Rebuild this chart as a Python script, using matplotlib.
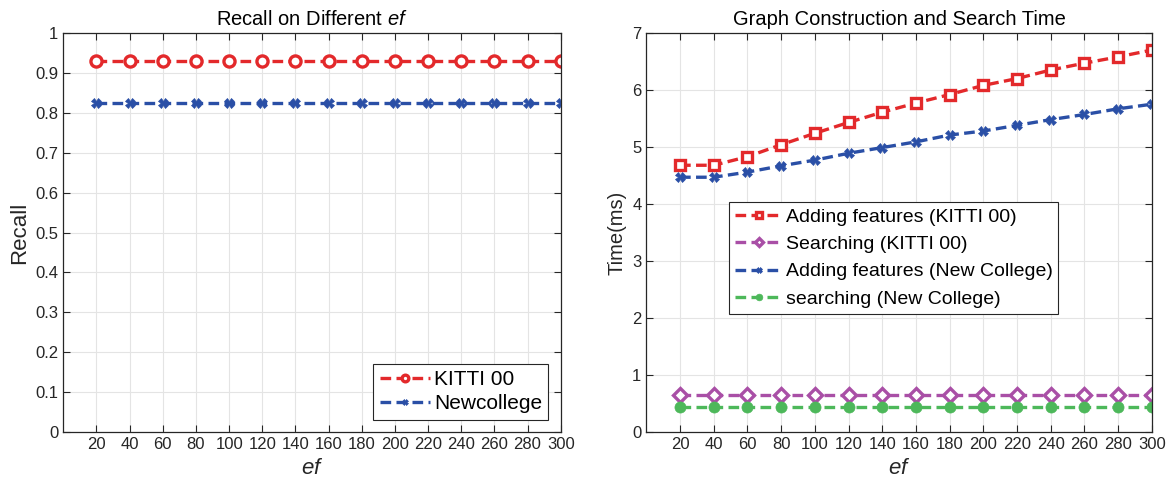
import numpy as np
import matplotlib
matplotlib.use("Agg")
import matplotlib.pyplot as plt

plt.rcParams["font.family"] = ["Liberation Sans", "DejaVu Sans"]
plt.rcParams["mathtext.fontset"] = "custom"
plt.rcParams["mathtext.rm"] = "Liberation Sans"
plt.rcParams["mathtext.it"] = "Liberation Sans:italic"

ef = [20, 40, 60, 80, 100, 120, 140, 160, 180, 200, 220, 240, 260, 280, 300]

# recall vs ef
recall_kitti = [0.93] * 15
recall_newcollege = [0.825] * 15

# timing (ms)
add_kitti = [4.68, 4.68, 4.83, 5.04, 5.24, 5.43, 5.61, 5.77, 5.92, 6.08,
             6.20, 6.35, 6.47, 6.58, 6.70]
search_kitti = [0.65] * 15
add_newcollege = [4.47, 4.47, 4.56, 4.67, 4.77, 4.89, 4.99, 5.09, 5.21, 5.28,
                  5.38, 5.48, 5.57, 5.67, 5.75]
search_newcollege = [0.45] * 15

RED = "#e3292b"
BLUE = "#2a4fa6"
PURPLE = "#a94fa6"
GREEN = "#4db85a"
DASH = (3.2, 1.6)
INK = "#262626"


def style(ax):
    ax.set_xlim(0, 300)
    ax.set_xticks(ef)
    ax.grid(True, color="#e4e4e4", linewidth=0.8)
    ax.set_axisbelow(True)
    ax.tick_params(direction="in", top=True, right=True, length=5,
                   labelsize=12, colors=INK, labelcolor=INK)
    for s in ax.spines.values():
        s.set_color(INK)
        s.set_linewidth(0.9)
    ax.set_xlabel("$\\it{ef}$", fontsize=16, color=INK)


def legend(ax, size, spacing, **kw):
    leg = ax.legend(fontsize=size, fancybox=False, edgecolor=INK,
                    handlelength=2.4, handletextpad=0.2, borderpad=0.3,
                    labelspacing=spacing, markerscale=0.6, framealpha=1, **kw)
    leg.get_frame().set_linewidth(0.8)
    return leg


fig = plt.figure(figsize=(11.73, 4.84), dpi=100)
ax1 = fig.add_axes([0.054, 0.107, 0.424, 0.825])
ax2 = fig.add_axes([0.551, 0.107, 0.431, 0.825])

ax1.plot(ef, recall_kitti, color=RED, ls="--", dashes=DASH, lw=2.4,
         marker="o", ms=8, mfc="white", mew=2.4, label="KITTI 00")
ax1.plot(ef, recall_newcollege, color=BLUE, ls="--", dashes=DASH, lw=2.4,
         marker="X", ms=7, mew=0.5, label="Newcollege")
style(ax1)
ax1.set_ylim(0, 1)
ax1.set_yticks(np.arange(0, 1.01, 0.1))
ax1.set_yticklabels(["0", "0.1", "0.2", "0.3", "0.4", "0.5", "0.6", "0.7",
                     "0.8", "0.9", "1"])
ax1.set_ylabel("Recall", fontsize=16, color=INK)
ax1.set_title("Recall on Different $\\it{ef}$", fontsize=14.5)
legend(ax1, 15, 0.25, loc="lower right", borderaxespad=0.6)

ax2.plot(ef, add_kitti, color=RED, ls="--", dashes=DASH, lw=2.4,
         marker="s", ms=7.5, mfc="white", mew=2.4,
         label="Adding features (KITTI 00)")
ax2.plot(ef, search_kitti, color=PURPLE, ls="--", dashes=DASH, lw=2.4,
         marker="D", ms=7.5, mfc="white", mew=2.4,
         label="Searching (KITTI 00)")
ax2.plot(ef, add_newcollege, color=BLUE, ls="--", dashes=DASH, lw=2.4,
         marker="X", ms=7, mew=0.5,
         label="Adding features (New College)")
ax2.plot(ef, search_newcollege, color=GREEN, ls="--", dashes=DASH, lw=2.4,
         marker="o", ms=8, mew=0.5,
         label="searching (New College)")
style(ax2)
ax2.set_ylim(0, 7)
ax2.set_yticks(range(0, 8))
ax2.set_ylabel("Time(ms)", fontsize=14.5, color=INK)
ax2.set_title("Graph Construction and Search Time", fontsize=14.5)
legend(ax2, 14, 0.5, loc="upper left", bbox_to_anchor=(0.145, 0.6))

fig.savefig("out.png", dpi=100)
